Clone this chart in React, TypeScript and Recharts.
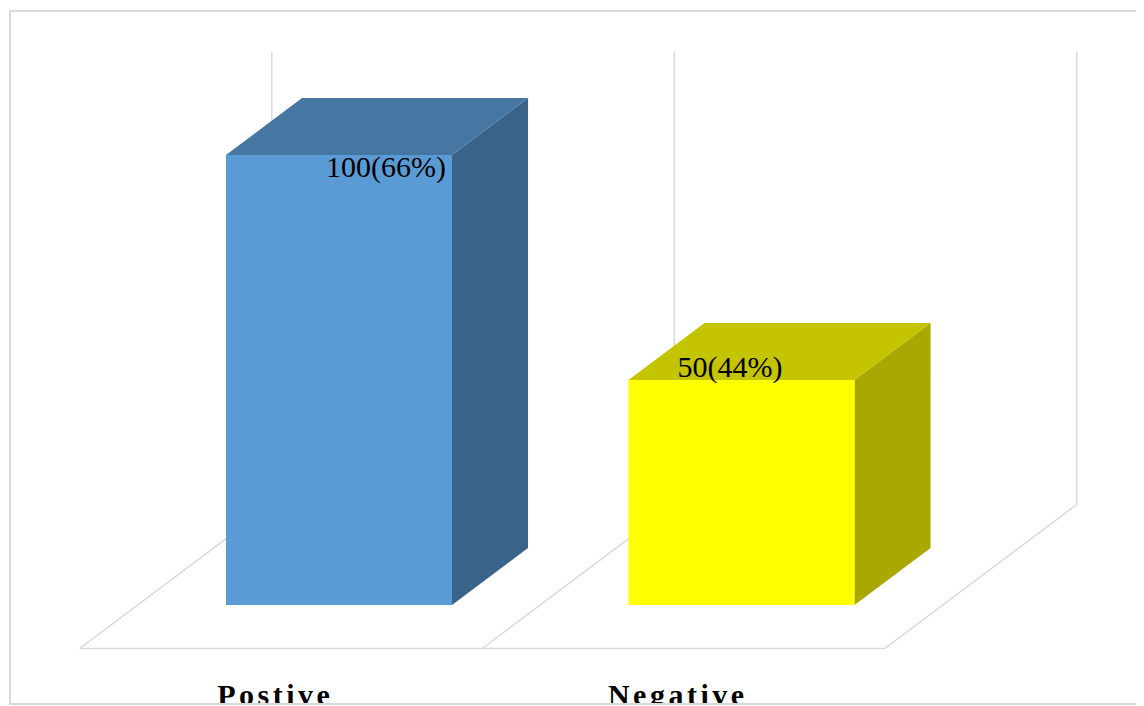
import React from 'react';
import { BarChart, Bar, XAxis, YAxis, LabelList } from 'recharts';

// ---- data ----
const categories = ['Postive', 'Negative'];
const values = [100, 50];
const percents = ['66%', '44%'];

// ---- styles / layout ----
const CHART_W = 1136;
const CHART_H = 698;
const MARGIN = { top: 147, right: 201, bottom: 71, left: 130 };
const XAXIS_H = 30;
const BAR_SIZE = 226;
const PLOT_W = CHART_W - MARGIN.left - MARGIN.right;
const CAT_W = PLOT_W / categories.length;

// depth vector of the whole floor, and fraction where bar starts / ends
const DEPTH = { dx: 192, dy: -144 };
const BAR_FRONT = 0.302;
const BAR_BACK = 0.698;

const FRONT_COLORS = ['#5b9bd5', '#ffff00'];
const TOP_COLORS = ['#4677a3', '#c4c400'];
const SIDE_COLORS = ['#3a6389', '#a8a800'];
const GRID = '#d9d9d9';
const FONT = '"Liberation Serif", "Times New Roman", serif';
const LABEL_OFFSETS = [
  { dx: 100, dy: 22 },
  { dx: 49, dy: -3 },
];

const data = categories.map((c, i) => ({ name: c, value: values[i], pct: percents[i] }));

const Box3D = (props: any) => {
  const { x, y, width, height, index } = props;
  const bdx = (BAR_BACK - BAR_FRONT) * DEPTH.dx;
  const bdy = (BAR_BACK - BAR_FRONT) * DEPTH.dy;
  const x2 = x + width;
  const yb = y + height;
  const top = `${x},${y} ${x2},${y} ${x2 + bdx},${y + bdy} ${x + bdx},${y + bdy}`;
  const side = `${x2},${y} ${x2 + bdx},${y + bdy} ${x2 + bdx},${yb + bdy} ${x2},${yb}`;
  return (
    <g>
      <polygon points={side} fill={SIDE_COLORS[index]} />
      <polygon points={top} fill={TOP_COLORS[index]} />
      <rect x={x} y={y} width={width} height={height} fill={FRONT_COLORS[index]} />
    </g>
  );
};

const Floor = (props: any) => {
  const { x, y, width, height, index } = props;
  const gap = (CAT_W - width) / 2;
  const baseY = y + height;
  const fdx = -BAR_FRONT * DEPTH.dx;
  const fdy = -BAR_FRONT * DEPTH.dy;
  const wdx = BAR_BACK * DEPTH.dx;
  const wdy = BAR_BACK * DEPTH.dy;
  const left = x - gap;
  const right = x + width + gap;
  const floorY = baseY + fdy;
  const backY = baseY + wdy;
  const wallTop = y + wdy - 2.5;
  const lines: React.ReactNode[] = [];
  const edge = (cx: number, k: string) => (
    <g key={k}>
      <line x1={cx + fdx} y1={floorY} x2={cx + wdx} y2={backY} stroke={GRID} strokeWidth={1.5} />
      <line x1={cx + wdx} y1={backY} x2={cx + wdx} y2={wallTop} stroke={GRID} strokeWidth={1.5} />
    </g>
  );
  lines.push(edge(left, 'l'));
  if (index === categories.length - 1) lines.push(edge(right, 'r'));
  lines.push(
    <line key="f" x1={left + fdx} y1={floorY} x2={right + fdx} y2={floorY} stroke={GRID} strokeWidth={1.5} />
  );
  return <g>{lines}</g>;
};

const ValueLabel = (props: any) => {
  const { x, y, index } = props;
  const o = LABEL_OFFSETS[index] || { dx: 0, dy: 0 };
  return (
    <text x={x + o.dx} y={y + o.dy} fontFamily={FONT} fontSize={30} fill="#000" textAnchor="start">
      {`${values[index]}(${percents[index]})`}
    </text>
  );
};

const CatTick = (props: any) => {
  const { x, payload } = props;
  return (
    <text
      x={x - 64}
      y={CHART_H - 1}
      textAnchor="middle"
      fontFamily={FONT}
      fontSize={30}
      fontWeight="bold"
      letterSpacing={3.5}
      fill="#000"
    >
      {payload.value}
    </text>
  );
};

export default function App() {
  return (
    <div style={{ position: 'relative', width: CHART_W, height: CHART_H - 1, overflow: 'hidden', background: '#fff' }}>
      <BarChart width={CHART_W} height={CHART_H} data={data} margin={MARGIN} barSize={BAR_SIZE}>
        <XAxis dataKey="name" axisLine={false} tickLine={false} height={XAXIS_H} tick={<CatTick />} interval={0} />
        <YAxis hide domain={[0, 100]} />
        <Bar dataKey="value" isAnimationActive={false} background={(p: any) => <Floor {...p} />} shape={(p: any) => <Box3D {...p} />}>
          <LabelList dataKey="value" content={(p: any) => <ValueLabel {...p} />} />
        </Bar>
      </BarChart>
      <div
        style={{
          position: 'absolute',
          left: 1,
          top: 2,
          width: 1200,
          height: 691,
          border: `2px solid ${GRID}`,
          pointerEvents: 'none',
        }}
      />
    </div>
  );
}
